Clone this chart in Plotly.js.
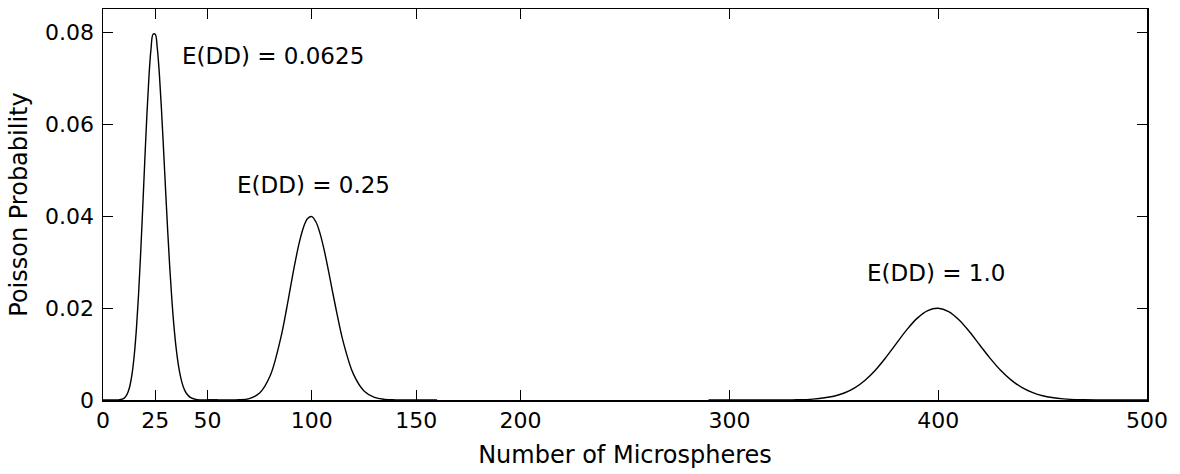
<!DOCTYPE html>
<html>
<head>
<meta charset="utf-8">
<script src="https://cdn.plot.ly/plotly-3.0.1.min.js"></script>
<style>html,body{margin:0;padding:0;background:#fff;}</style>
</head>
<body>
<div id="chart" style="width:1180px;height:474px;"></div>
<script>
// Series 1: E(DD) = 0.0625 (mean about 25)
const x1 = [0, 4, 6, 8, 10, 11, 12, 13, 14, 15, 16, 17, 18, 19, 20, 21, 22, 23, 24, 25, 26, 27, 28, 29, 30, 31, 32, 33, 34, 35, 36, 37, 38, 39, 40, 42, 45, 50, 55];
const y1 = [0, 0, 0.000003, 0.00005, 0.00036, 0.00083, 0.00173, 0.00332, 0.00593, 0.00989, 0.01546, 0.02273, 0.03157, 0.04153, 0.05192, 0.06180, 0.07023, 0.07634, 0.07952, 0.07952, 0.07646, 0.07080, 0.06321, 0.05449, 0.04541, 0.03662, 0.02861, 0.02168, 0.01594, 0.01138, 0.00791, 0.00534, 0.00351, 0.00225, 0.00141, 0.00051, 0.00009, 0.000005, 0];
// Series 2: E(DD) = 0.25 (mean about 100)
const x2 = [50, 60, 65, 70, 75, 80, 85, 88, 90, 92, 94, 96, 98, 100, 102, 104, 106, 108, 110, 112, 115, 120, 125, 130, 135, 140, 150, 160];
const y2 = [0, 0.0000045, 0.000045, 0.00031, 0.0015, 0.0052, 0.01322, 0.0200, 0.02504, 0.02991, 0.03421, 0.03751, 0.03946, 0.03986, 0.03869, 0.03612, 0.03245, 0.02808, 0.02342, 0.0189, 0.01273, 0.00556, 0.00198, 0.00058, 0.00014, 0.000028, 0.0000007, 0];
// Series 3: E(DD) = 1.0 (mean about 400)
const x3 = [290, 310, 320, 330, 340, 350, 355, 360, 365, 370, 375, 380, 385, 390, 395, 400, 405, 410, 415, 420, 425, 430, 435, 440, 445, 450, 460, 470, 480, 490, 500];
const y3 = [0, 0.0000005, 0.0000041, 0.0000325, 0.000188, 0.000815, 0.00152, 0.00265, 0.00431, 0.00654, 0.00928, 0.0123, 0.01529, 0.0178, 0.01945, 0.01994, 0.01922, 0.0174, 0.01483, 0.0119, 0.0090, 0.00642, 0.00432, 0.00274, 0.00165, 0.00093, 0.000255, 0.000056, 0.0000099, 0.0000014, 0];

const xTicks = [0, 25, 50, 100, 150, 200, 300, 400, 500];
const yTicks = [0, 0.02, 0.04, 0.06, 0.08];
const yTickText = ["0", "0.02", "0.04", "0.06", "0.08"];
const labels = ["E(DD) = 0.0625", "E(DD) = 0.25", "E(DD) = 1.0"];
const labelX = [37, 63, 365];
const labelY = [0.0747, 0.0467, 0.0276];

const FONT = "DejaVu Sans, Liberation Sans, Arial, sans-serif";
const line = {color: "#000", width: 1.4, shape: "spline", smoothing: 1};
const traces = [
  {x: x1, y: y1, mode: "lines", line: line, hoverinfo: "skip"},
  {x: x2, y: y2, mode: "lines", line: line, hoverinfo: "skip"},
  {x: x3, y: y3, mode: "lines", line: line, hoverinfo: "skip"}
];

const axisCommon = {
  showline: true, linecolor: "#000", linewidth: 1.5, mirror: "ticks",
  ticks: "inside", ticklen: 10, tickwidth: 1, tickcolor: "#000",
  showgrid: false, zeroline: false, tickfont: {family: FONT, size: 22, color: "#000"}
};

const layout = {
  width: 1180, height: 474,
  margin: {l: 103, r: 33, t: 9, b: 74},
  paper_bgcolor: "#fff", plot_bgcolor: "#fff",
  showlegend: false,
  font: {family: FONT, color: "#000"},
  xaxis: Object.assign({}, axisCommon, {
    range: [0, 500], tickmode: "array", tickvals: xTicks, ticktext: xTicks.map(String),
    title: {text: "Number of Microspheres", font: {family: FONT, size: 24, color: "#000"}, standoff: 14}
  }),
  yaxis: Object.assign({}, axisCommon, {
    range: [0, 0.085], tickmode: "array", tickvals: yTicks, ticktext: yTickText,
    ticklabelstandoff: 3,
    title: {text: "Poisson Probability", font: {family: FONT, size: 24, color: "#000"}, standoff: 10}
  }),
  annotations: labels.map((t, i) => ({
    x: labelX[i], y: labelY[i], xref: "x", yref: "y", text: t, showarrow: false,
    xanchor: "left", yanchor: "middle", font: {family: FONT, size: 23, color: "#000"}
  }))
};

Plotly.newPlot("chart", traces, layout, {displayModeBar: false, staticPlot: true});
</script>
</body>
</html>
